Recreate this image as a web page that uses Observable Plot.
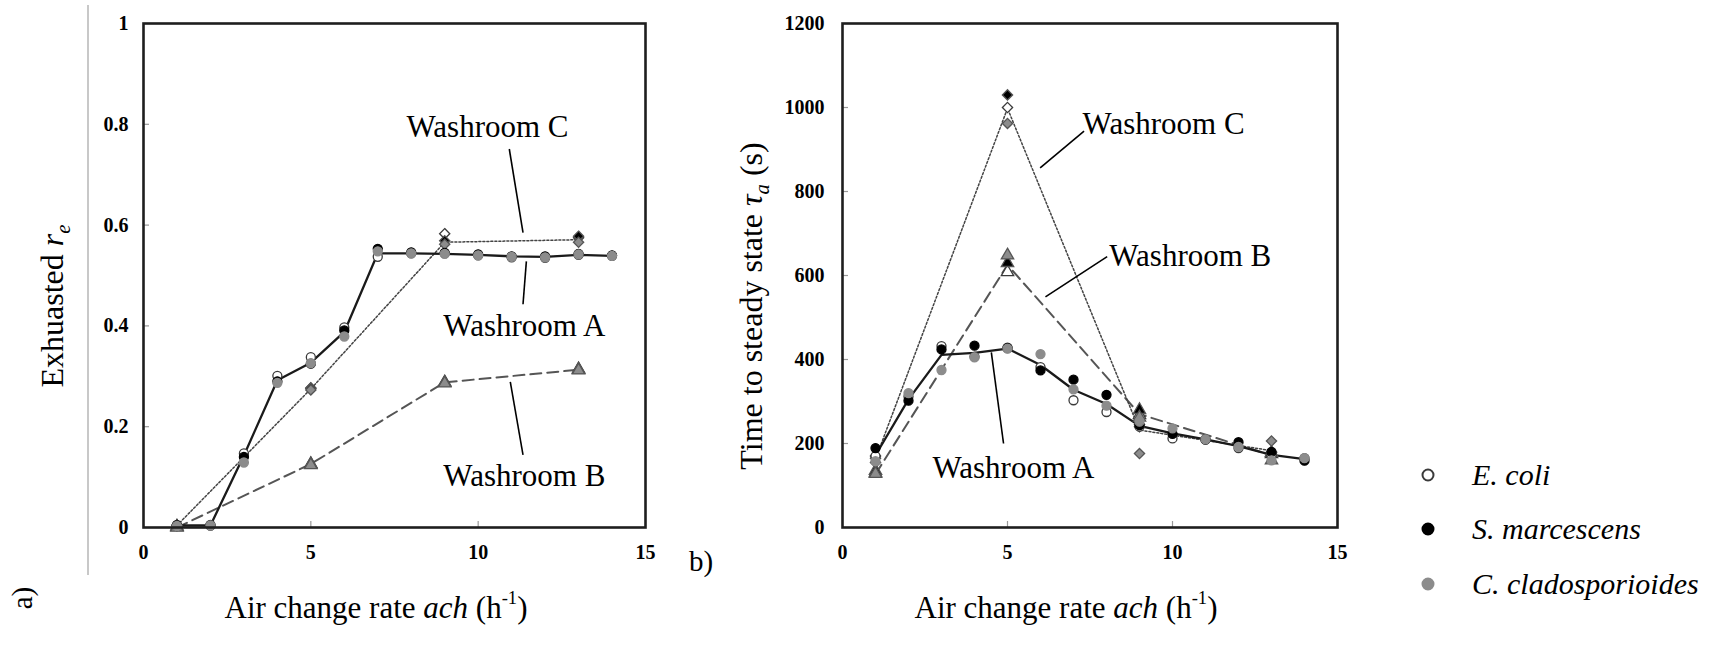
<!DOCTYPE html>
<html><head><meta charset="utf-8">
<script src="https://cdn.jsdelivr.net/npm/d3@7"></script>
<script src="https://cdn.jsdelivr.net/npm/@observablehq/plot@0.6"></script>
<style>
body{margin:0;background:#fff;}
#wrap{position:relative;width:1724px;height:647px;overflow:hidden;font-family:"Liberation Serif","LiberationSerif","Times New Roman",Times,"DejaVu Serif",serif;color:#000;}
.abs{position:absolute;white-space:nowrap;line-height:1;}
.c{transform:translate(-50%,-50%);}
.r{transform:translate(-50%,-50%) rotate(-90deg);}
svg text{font-family:"Liberation Serif","LiberationSerif","Times New Roman",Times,"DejaVu Serif",serif;}
svg g[aria-label="x-axis tick label"] text, svg g[aria-label="y-axis tick label"] text{font-weight:bold;}
sup{font-size:60%;vertical-align:0.75em;}
sub{font-size:65%;vertical-align:-0.3em;}
</style></head><body><div id="wrap"></div>
<script>
// ---------- categories / ticks ----------
const achA  = [1,2,3,4,5,6,7,8,9,10,11,12,13,14];
const achBC = [1,5,9,13];
const xTicks = [0,5,10,15];
const reTicks = [0,0.2,0.4,0.6,0.8,1];
const tauTicks = [0,200,400,600,800,1000,1200];
const species = ["E. coli","S. marcescens","C. cladosporioides"];

// ---------- a) exhausted r_e ----------
const reA_line  = [0.004,0.004,0.143,0.292,0.327,0.388,0.544,0.544,0.543,0.541,0.538,0.537,0.541,0.539];
const reA_ecoli = [0.005,0.005,0.147,0.301,0.338,0.397,0.537,0.544,0.544,0.540,0.536,0.535,0.541,0.539];
const reA_sm    = [0.004,0.004,0.140,0.290,0.325,0.391,0.553,0.546,0.545,0.542,0.538,0.538,0.543,0.540];
const reA_cc    = [0.003,0.004,0.129,0.287,0.326,0.379,0.548,0.544,0.543,0.540,0.537,0.536,0.542,0.539];
const reB_line  = [0.000,0.126,0.288,0.313];
const reB_ecoli = [0.002,0.126,0.288,0.314];
const reB_sm    = [0.001,0.125,0.287,0.313];
const reB_cc    = [0.000,0.124,0.286,0.312];
const reC_line  = [0.004,0.275,0.566,0.571];
const reC_ecoli = [0.005,0.277,0.583,0.575];
const reC_sm    = [0.004,0.276,0.569,0.578];
const reC_cc    = [0.003,0.273,0.562,0.566];

// ---------- b) time to steady state tau_a ----------
const tauA_line  = [172,305,411,416,426,387,328,294,242,224,210,194,173,163];
const tauA_ecoli = [170,312,432,407,428,382,303,275,240,212,210,189,172,165];
const tauA_sm    = [189,302,424,433,427,374,352,316,244,223,209,203,180,159];
const tauA_cc    = [158,320,375,405,426,413,329,290,252,236,210,192,160,165];
const tauB_line  = [127,625,270,172];
const tauB_ecoli = [130,608,268,175];
const tauB_sm    = [135,630,280,178];
const tauB_cc    = [128,648,262,160];
const tauC_line  = [163,998,232,183];
const tauC_ecoli = [170,1000,240,178];
const tauC_sm    = [165,1030,245,180];
const tauC_cc    = [155,962,176,206];

// ---------- annotations ----------
const reNotes   = [{x:10.28,y:0.794,t:"Washroom C"},{x:11.38,y:0.40,t:"Washroom A"},{x:11.38,y:0.103,t:"Washroom B"}];
const reLeaders = [{x1:10.93,y1:0.751,x2:11.34,y2:0.585},{x1:11.44,y1:0.528,x2:11.34,y2:0.443},{x1:10.96,y1:0.289,x2:11.34,y2:0.144}];
const tauNotes   = [{x:9.73,y:961,t:"Washroom C"},{x:10.54,y:646,t:"Washroom B"},{x:5.18,y:141,t:"Washroom A"}];
const tauLeaders = [{x1:7.32,y1:944,x2:5.99,y2:856},{x1:8.02,y1:645,x2:6.15,y2:549},{x1:4.51,y1:417,x2:4.88,y2:200}];

// ---------- styles ----------
const speciesFill = {"E. coli":"#ffffff","S. marcescens":"#000000","C. cladosporioides":"#8c8c8c"};
const speciesStroke = {"E. coli":"#3a3a3a","S. marcescens":"#000000","C. cladosporioides":"#8c8c8c"};
const serif = '"Liberation Serif","LiberationSerif","Times New Roman",Times,"DejaVu Serif",serif';

function pts(xs, ys){ return xs.map((x,i)=>({x, y: ys[i]})); }
function sp(xs, arrs){ // arrs in species order
  const out=[]; arrs.forEach((a,k)=>a.forEach((v,i)=>out.push({x:xs[i], y:v, s:species[k]}))); return out;
}

function panel(cfg){
  const W=680, H=580, mt=23, mb=53;
  const innerH = H-mt-mb, innerW = W-cfg.ml-cfg.mr;
  const dotOpts = (sym, r) => ({x:"x", y:"y", symbol: sym, r,
      fill: d=>speciesFill[d.s], stroke: d=>sym==="circle"?speciesStroke[d.s]:(d.s==="E. coli"?"#3a3a3a":"#555"),
      strokeWidth: 1.3});
  const plot = Plot.plot({
    width: W, height: H, marginLeft: cfg.ml, marginRight: cfg.mr, marginTop: mt, marginBottom: mb,
    style: {fontFamily: serif, fontSize: "20px", background: "transparent", overflow: "visible"},
    x: {domain: [0,15]},
    y: {domain: cfg.yDomain},
    fill: {type: "identity"}, stroke: {type: "identity"},
    marks: [
      Plot.ruleX([5,10], {insetTop: innerH-6, stroke:"#999", strokeWidth:1.2}),
      Plot.ruleY(cfg.yTicks.slice(1,-1), {insetRight: innerW-6, stroke:"#999", strokeWidth:1.2}),
      // Washroom B (dashed)
      Plot.line(pts(achBC, cfg.B_line), {x:"x", y:"y", stroke:"#555", strokeWidth:2, strokeDasharray:"11,6"}),
      // Washroom C (dotted)
      Plot.line(pts(achBC, cfg.C_line), {x:"x", y:"y", stroke:"#444", strokeWidth:1.5, strokeDasharray:"2,2"}),
      // Washroom A (solid)
      Plot.line(pts(achA, cfg.A_line), {x:"x", y:"y", stroke:"#1a1a1a", strokeWidth:2.3}),
      Plot.dot(sp(achBC, cfg.B_pts), dotOpts("triangle", 4.6)),
      Plot.dot(sp(achBC, cfg.C_pts), dotOpts("diamond2", 4.6)),
      Plot.dot(sp(achA, cfg.A_pts), dotOpts("circle", 4.5)),
      Plot.link(cfg.leaders, {x1:"x1", y1:"y1", x2:"x2", y2:"y2", stroke:"#000", strokeWidth:1.6}),
      Plot.text(cfg.notes, {x:"x", y:"y", text:"t", fontSize: 31, fontFamily: serif, fill:"#000", textAnchor:"middle"}),
      Plot.frame({stroke:"#1e1e1e", strokeWidth:2.6}),
      Plot.axisX({ticks: xTicks, tickSize: 0, tickPadding: 17, label: null, tickFormat: d=>String(d), fontSize: 20}),
      Plot.axisY({ticks: cfg.yTicks, tickSize: 0, tickPadding: cfg.tp, label: null, tickFormat: d=>String(d), fontSize: 20})
    ]
  });
  plot.style.position = "absolute";
  plot.style.left = cfg.left + "px";
  plot.style.top = "0px";
  return plot;
}

const wrap = document.getElementById("wrap");
wrap.appendChild(panel({left:0, ml:143, mr:35, yDomain:[0,1], yTicks: reTicks, tp:15,
  A_line: reA_line, A_pts:[reA_ecoli, reA_sm, reA_cc],
  B_line: reB_line, B_pts:[reB_ecoli, reB_sm, reB_cc],
  C_line: reC_line, C_pts:[reC_ecoli, reC_sm, reC_cc],
  notes: reNotes, leaders: reLeaders}));
wrap.appendChild(panel({left:700, ml:142, mr:43, yDomain:[0,1200], yTicks: tauTicks, tp:18,
  A_line: tauA_line, A_pts:[tauA_ecoli, tauA_sm, tauA_cc],
  B_line: tauB_line, B_pts:[tauB_ecoli, tauB_sm, tauB_cc],
  C_line: tauC_line, C_pts:[tauC_ecoli, tauC_sm, tauC_cc],
  notes: tauNotes, leaders: tauLeaders}));

// ---------- surrounding text ----------
function add(html, x, y, cls, size, extra){
  const d = document.createElement("div");
  d.className = "abs " + cls;
  d.style.left = x+"px"; d.style.top = y+"px"; d.style.fontSize = size+"px";
  if (extra) Object.assign(d.style, extra);
  d.innerHTML = html; wrap.appendChild(d); return d;
}
const vline = document.createElement("div");
Object.assign(vline.style,{position:"absolute",left:"87px",top:"5px",width:"1.5px",height:"570px",background:"#c8c8c8"});
wrap.appendChild(vline);

add('Exhuasted <i>r</i><sub><i>e</i></sub>', 55, 306, "r", 32);
add('Time to steady state <i>τ</i><sub><i>a</i></sub> (s)', 754, 306, "r", 32);
add('Air change rate <i>ach</i> (h<sup>-1</sup>)', 376, 606, "c", 31);
add('Air change rate <i>ach</i> (h<sup>-1</sup>)', 1066, 606, "c", 31);
add('a)', 22, 598, "r", 29);
add('b)', 701, 561, "c", 29);

// legend
const legendY = [475, 529, 584];
species.forEach((s,i)=>{
  const ns = "http://www.w3.org/2000/svg";
  const svg = document.createElementNS(ns,"svg");
  svg.setAttribute("width",20); svg.setAttribute("height",20);
  Object.assign(svg.style,{position:"absolute",left:(1428-10)+"px",top:(legendY[i]-10)+"px"});
  const c = document.createElementNS(ns,"circle");
  c.setAttribute("cx",10); c.setAttribute("cy",10); c.setAttribute("r",5.5);
  c.setAttribute("fill", speciesFill[s]); c.setAttribute("stroke", speciesStroke[s]); c.setAttribute("stroke-width", 2);
  svg.appendChild(c); wrap.appendChild(svg);
  add('<i>'+s+'</i>', 1472, legendY[i], "", 30, {transform:"translateY(-50%)"});
});
</script>
</body></html>
